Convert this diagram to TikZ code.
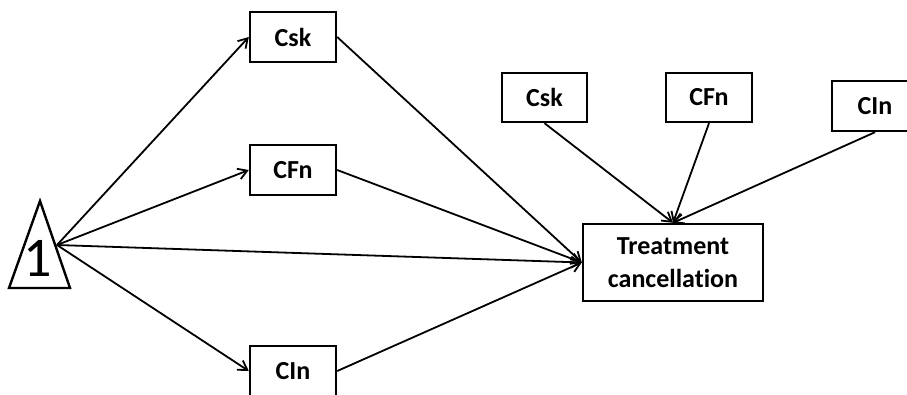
\documentclass[tikz,border=0pt]{standalone}
\usepackage{fontspec}
\setmainfont{Carlito}[Ligatures=NoCommon]
\usetikzlibrary{arrows.meta}
\begin{document}
\begin{tikzpicture}[x=1pt,y=-1pt,line width=1.8pt,>={Straight Barb[length=9pt,width=11pt]},
		box/.style={draw,line width=2.4pt,minimum width=86pt,minimum height=50pt,inner sep=0pt,font=\fontsize{26}{33}\selectfont\bfseries}]
				\useasboundingbox (0,0) rectangle (907,394);
				\draw [line width=2.4pt,line join=miter] (40,201)--(70,288)--(9,288)--cycle;
				\node (one) at (38,258) {\fontsize{56}{60}\selectfont 1};
				\coordinate (src) at (57,245);
				\node[box] (cska) at (293,37) {Csk};
				\node[box] (cfna) at (293,170) {CFn};
				\node[box] (cina) at (293,371) {CIn};
				\node[box,minimum width=180pt,minimum height=77pt,align=center] (treat) at (673,262.5) {Treatment\\cancellation};
				\node[box,minimum width=85pt,minimum height=49pt] (cskb) at (544.5,97.5) {Csk};
				\node[box,minimum height=49pt] (cfnb) at (709,97.5) {CFn};
				\node[box] (cinb) at (875,106) {CIn};
				\draw [->] (src)--(cska.west);
				\draw [->] (src)--(cfna.west);
				\draw [->] (src)--(cina.west);
				\draw [->] (src)--(treat.west);
				\draw [->] (cska.east)--(treat.west);
				\draw [->] (cfna.east)--(treat.west);
				\draw [->] (cina.east)--(treat.west);
				\draw [->] (cskb.south)--(treat.north);
				\draw [->] (cfnb.south)--(treat.north);
				\draw [->] (cinb.south)--(treat.north);
		\end{tikzpicture}
\end{document}
